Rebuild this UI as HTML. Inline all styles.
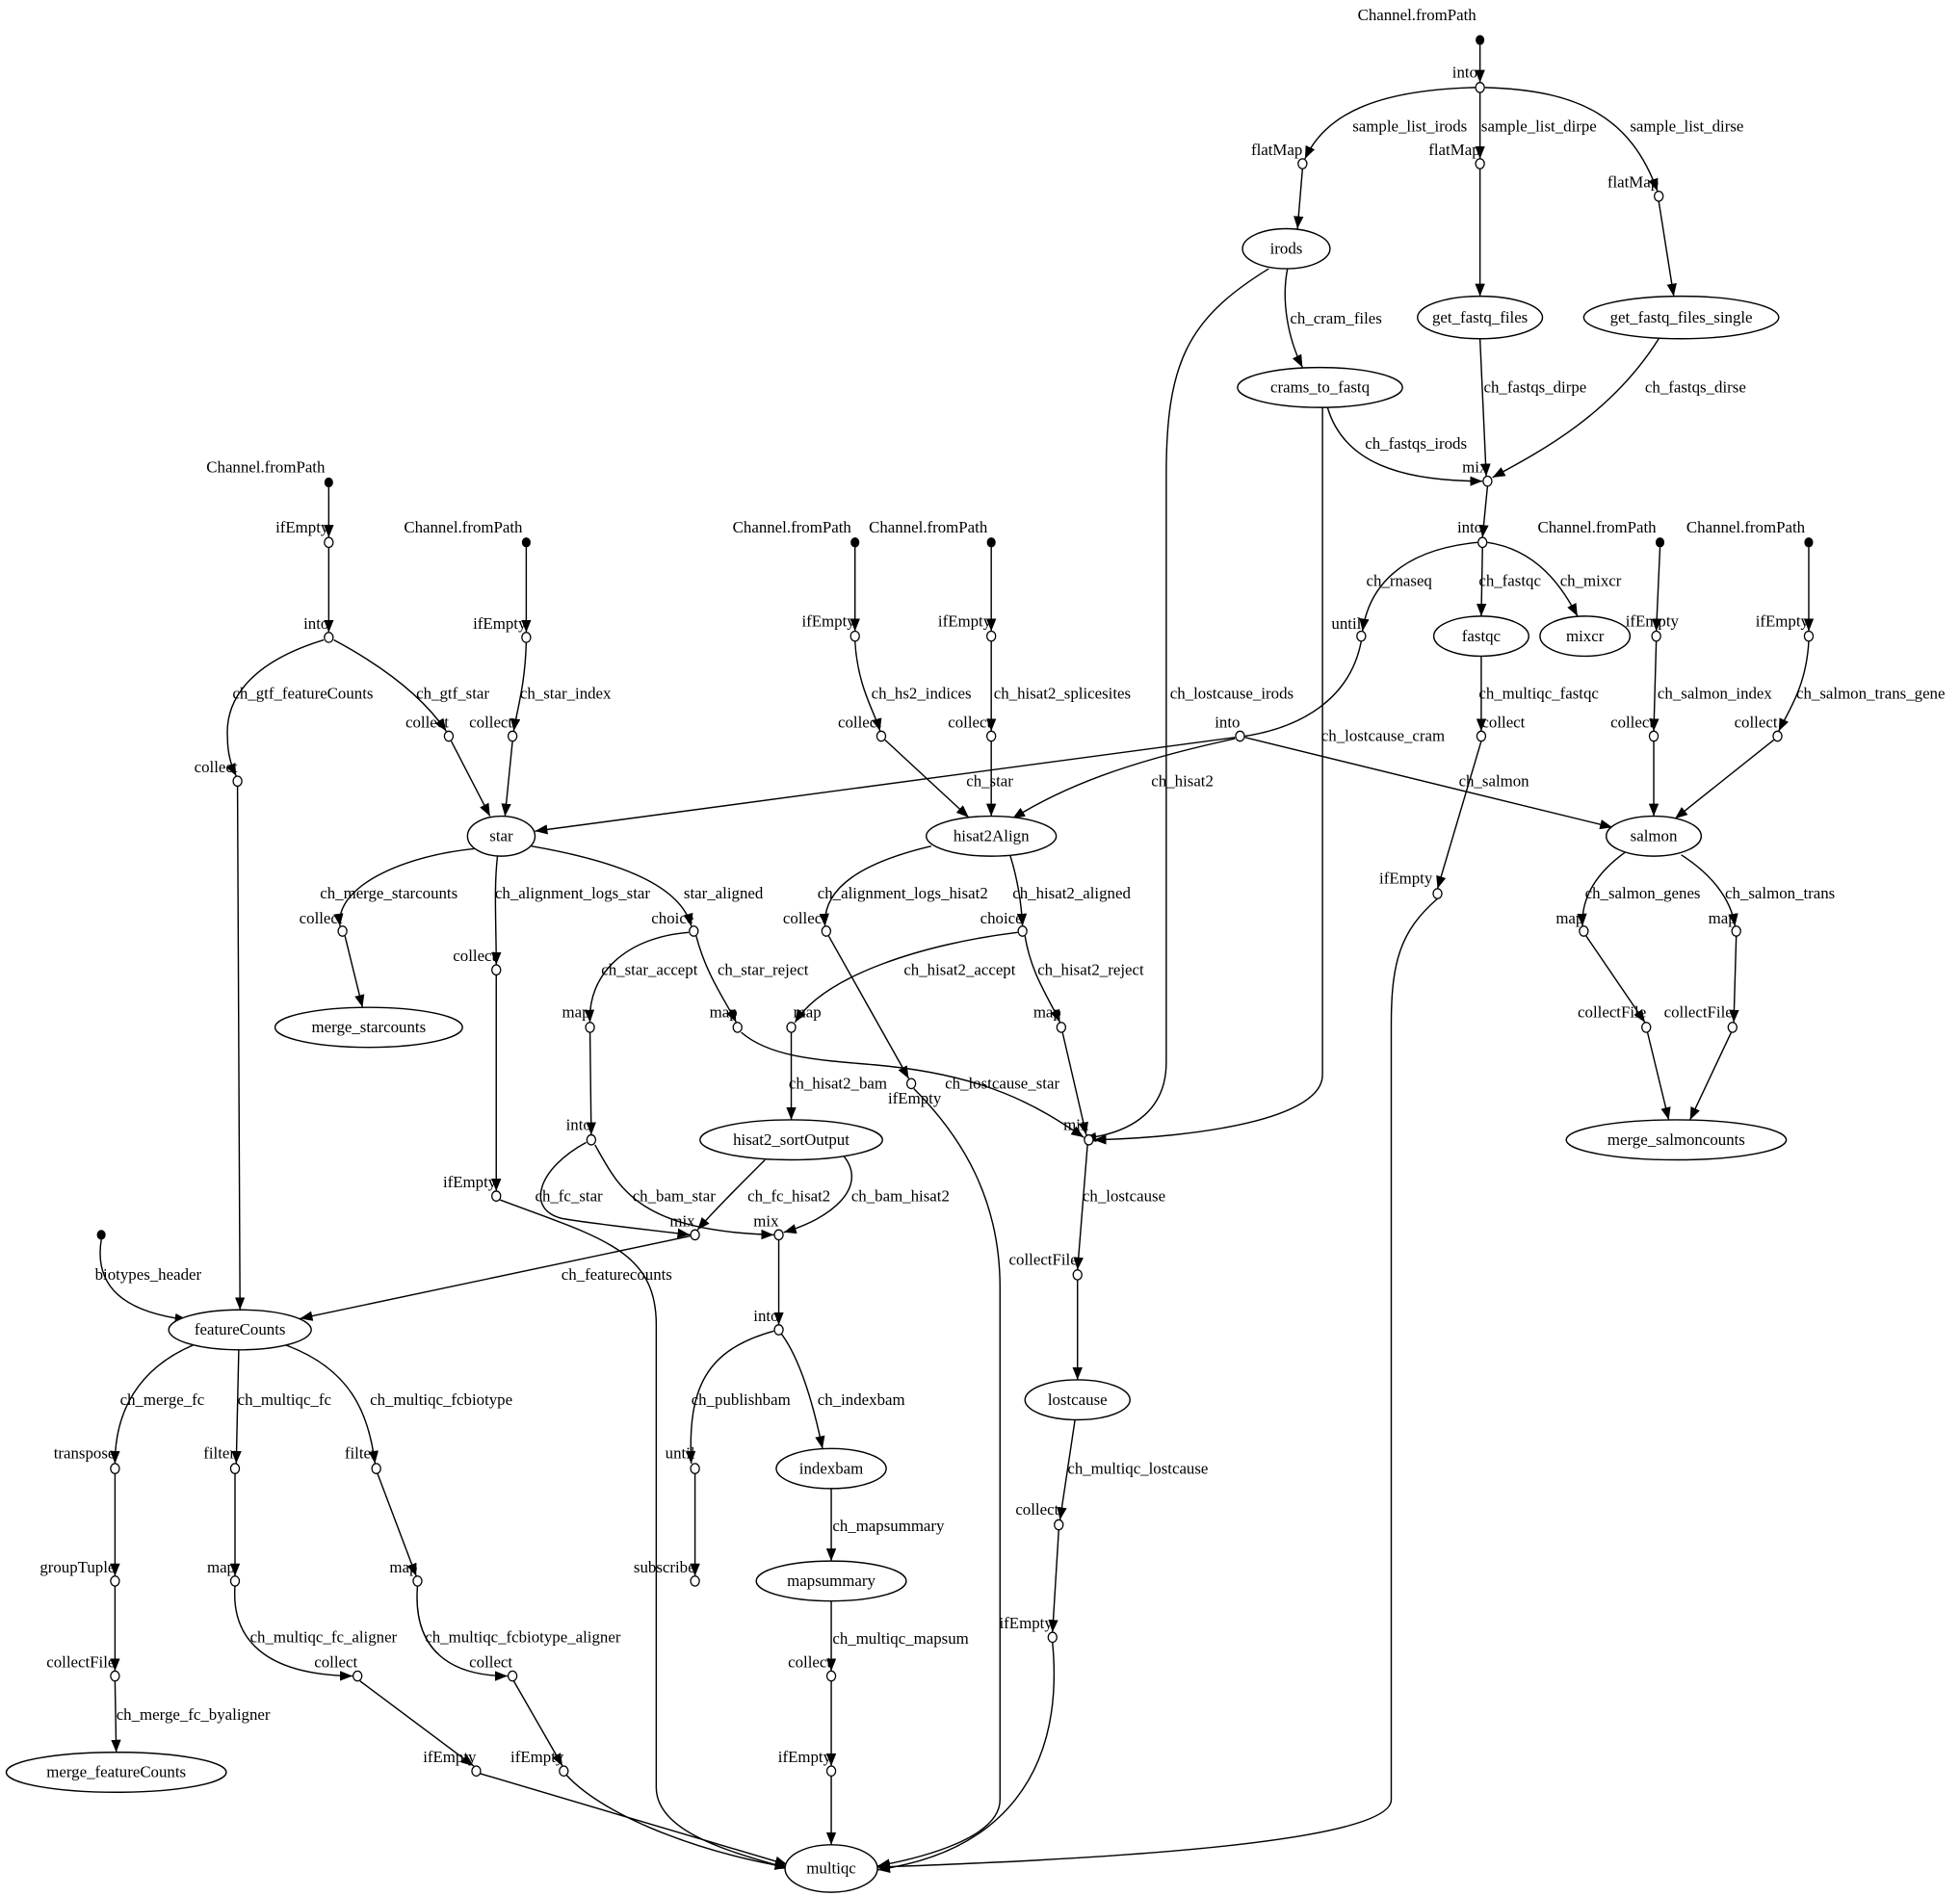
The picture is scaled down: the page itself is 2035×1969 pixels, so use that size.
<!DOCTYPE html>
<html><head><meta charset="utf-8"><style>
html,body{margin:0;padding:0;background:#fff}
svg{display:block}
text{font-family:"Liberation Serif",serif;font-size:13px;fill:#000}
.e{fill:none;stroke:#000;stroke-width:1.1}
.a{marker-end:url(#ar)}
.c{fill:#fff;stroke:#000;stroke-width:1}
.n{fill:#fff;stroke:#000;stroke-width:1.1}
.m{text-anchor:middle}
.r{text-anchor:end}
</style></head><body>
<svg width="2035" height="1969" viewBox="0 0 1568 1517" preserveAspectRatio="none" xmlns="http://www.w3.org/2000/svg">
<defs><marker id="ar" markerUnits="userSpaceOnUse" markerWidth="10" markerHeight="8" refX="10" refY="4" orient="auto"><path d="M0,0 L10,4 L0,8 z" fill="#000"/></marker></defs>
<g>
<path class="e a" d="M1184,36 L1184,66"/>
<path class="e a" d="M1180,70 C1100,72 1060,92 1044,127"/>
<path class="e a" d="M1184,74 L1184,127"/>
<path class="e a" d="M1188,70 C1265,72 1305,95 1326,153"/>
<path class="e a" d="M1042,135 L1038,183"/>
<path class="e a" d="M1184,135 L1184,237"/>
<path class="e a" d="M1327,161 L1339,237"/>
<path class="e a" d="M1030,215 C1025,240 1030,270 1042,294"/>
<path class="e a" d="M1015,215 C950,255 933,290 933,380 L933,850 C933,885 910,906 867,911"/>
<path class="e a" d="M1184,271 L1189,381"/>
<path class="e a" d="M1327,271 C1290,330 1235,360 1194,382"/>
<path class="e a" d="M1062,326 C1075,370 1120,385 1186,385"/>
<path class="e a" d="M1058,326 L1058,860 C1058,895 960,910 875,912"/>
<path class="e a" d="M1190,389 L1186,430"/>
<path class="e a" d="M1182,434 C1120,440 1095,470 1090,505"/>
<path class="e a" d="M1186,438 L1185,493"/>
<path class="e a" d="M1190,434 C1230,440 1250,470 1262,493"/>
<path class="e" d="M1089,513 C1080,560 1040,582 996,589"/>
<path class="e a" d="M988,590 L428,665"/>
<path class="e a" d="M988,591 C900,610 850,630 810,655"/>
<path class="e a" d="M996,590 L1290,662"/>
<path class="e a" d="M1185,525 L1185,585"/>
<path class="e a" d="M1185,593 L1150,711"/>
<path class="e a" d="M1150,719 C1120,745 1113,770 1113,820 L1113,1440 C1113,1480 800,1490 702,1494"/>
<path class="e a" d="M1328,438 L1325,505"/>
<path class="e a" d="M1447,438 L1447,505"/>
<path class="e a" d="M1325,513 L1323,585"/>
<path class="e a" d="M1447,513 C1445,550 1430,570 1423,585"/>
<path class="e a" d="M1323,593 L1323,653"/>
<path class="e a" d="M1419,592 L1340,655"/>
<path class="e a" d="M1300,682 C1275,700 1265,720 1266,741"/>
<path class="e a" d="M1345,684 C1370,700 1385,720 1388,741"/>
<path class="e a" d="M1269,749 L1316,818"/>
<path class="e a" d="M1389,749 L1387,818"/>
<path class="e a" d="M1318,826 L1335,896"/>
<path class="e a" d="M1385,826 L1352,896"/>
<path class="e a" d="M684,438 L684,505"/>
<path class="e a" d="M793,438 L793,505"/>
<path class="e a" d="M684,513 C686,550 700,570 704,585"/>
<path class="e a" d="M793,513 L793,585"/>
<path class="e a" d="M708,592 L775,654"/>
<path class="e a" d="M793,593 L793,653"/>
<path class="e a" d="M745,677 C690,690 658,710 660,741"/>
<path class="e a" d="M808,684 C813,700 817,720 818,741"/>
<path class="e a" d="M663,749 L727,863"/>
<path class="e a" d="M731,871 C770,910 800,960 800,1030 L800,1440 C800,1470 740,1486 702,1493"/>
<path class="e a" d="M814,746 C740,755 660,780 636,818"/>
<path class="e a" d="M820,749 C825,780 840,800 848,818"/>
<path class="e a" d="M633,826 L633,896"/>
<path class="e a" d="M850,826 L869,908"/>
<path class="e a" d="M593,826 C615,845 650,848 700,852 C790,860 830,885 867,910"/>
<path class="e a" d="M870,916 L862,1016"/>
<path class="e a" d="M862,1024 L862,1104"/>
<path class="e a" d="M860,1136 L848,1216"/>
<path class="e a" d="M847,1224 L842,1306"/>
<path class="e a" d="M842,1314 C852,1420 800,1482 702,1496"/>
<path class="e a" d="M612,928 C590,950 570,970 558,984"/>
<path class="e a" d="M675,925 C695,950 665,975 627,986"/>
<path class="e a" d="M552,989 L240,1055"/>
<path class="e a" d="M623,992 L623,1060"/>
<path class="e a" d="M619,1065 C565,1080 550,1110 553,1171"/>
<path class="e a" d="M625,1067 C642,1090 652,1130 658,1159"/>
<path class="e a" d="M556,1179 L556,1261"/>
<path class="e a" d="M665,1191 L665,1249"/>
<path class="e a" d="M665,1281 L665,1337"/>
<path class="e a" d="M665,1345 L665,1413"/>
<path class="e a" d="M665,1421 L665,1476"/>
<path class="e a" d="M263,390 L263,430"/>
<path class="e a" d="M263,438 L263,506"/>
<path class="e a" d="M421,438 L421,506"/>
<path class="e a" d="M421,514 C420,550 413,570 411,585"/>
<path class="e a" d="M259,512 C200,530 180,560 182,590 C182,605 186,615 189,621"/>
<path class="e a" d="M267,512 C310,535 340,560 357,585"/>
<path class="e a" d="M361,593 L392,653"/>
<path class="e a" d="M410,593 L404,653"/>
<path class="e a" d="M190,629 L192,1048"/>
<path class="e a" d="M380,679 C320,685 268,710 272,741"/>
<path class="e a" d="M398,685 C395,710 397,740 397,772"/>
<path class="e a" d="M425,677 C500,690 545,710 553,741"/>
<path class="e a" d="M276,749 L290,806"/>
<path class="e a" d="M397,780 L397,953"/>
<path class="e a" d="M400,960 C480,990 525,1000 525,1060 L525,1430 C525,1470 600,1485 630,1495"/>
<path class="e a" d="M551,746 C500,750 470,780 472,818"/>
<path class="e a" d="M557,749 C565,780 580,800 589,818"/>
<path class="e a" d="M472,826 L473,908"/>
<path class="e a" d="M469,914 C430,935 420,968 450,975 C480,980 520,984 552,988"/>
<path class="e a" d="M476,916 C495,950 510,985 619,988"/>
<path class="e a" d="M81,992 C75,1030 100,1050 150,1056"/>
<path class="e a" d="M155,1076 C110,1095 92,1130 92,1171"/>
<path class="e a" d="M191,1080 L189,1171"/>
<path class="e a" d="M228,1076 C280,1095 295,1130 300,1171"/>
<path class="e a" d="M92,1179 L92,1261"/>
<path class="e a" d="M92,1269 L92,1337"/>
<path class="e a" d="M92,1345 L93,1402"/>
<path class="e a" d="M188,1179 L188,1261"/>
<path class="e a" d="M302,1179 L333,1261"/>
<path class="e a" d="M188,1269 C185,1310 210,1340 282,1341"/>
<path class="e a" d="M334,1269 C330,1320 360,1341 406,1341"/>
<path class="e a" d="M288,1345 L379,1413"/>
<path class="e a" d="M411,1345 L450,1413"/>
<path class="e a" d="M384,1419 L630,1492"/>
<path class="e a" d="M453,1420 C480,1450 550,1480 630,1494"/>
</g>
<g fill="#000">
<ellipse cx="1184" cy="32" rx="3.5" ry="4"/>
<ellipse cx="1328" cy="434" rx="3.5" ry="4"/>
<ellipse cx="1447" cy="434" rx="3.5" ry="4"/>
<ellipse cx="684" cy="434" rx="3.5" ry="4"/>
<ellipse cx="793" cy="434" rx="3.5" ry="4"/>
<ellipse cx="263" cy="386" rx="3.5" ry="4"/>
<ellipse cx="421" cy="434" rx="3.5" ry="4"/>
<ellipse cx="81" cy="988" rx="3.5" ry="4"/>
</g>
<g class="c">
<ellipse cx="1184" cy="70" rx="3.5" ry="4"/><ellipse cx="1042" cy="131" rx="3.5" ry="4"/><ellipse cx="1184" cy="131" rx="3.5" ry="4"/><ellipse cx="1327" cy="157" rx="3.5" ry="4"/>
<ellipse cx="1190" cy="385" rx="3.5" ry="4"/><ellipse cx="1186" cy="434" rx="3.5" ry="4"/><ellipse cx="1089" cy="509" rx="3.5" ry="4"/><ellipse cx="992" cy="589" rx="3.5" ry="4"/>
<ellipse cx="1325" cy="509" rx="3.5" ry="4"/><ellipse cx="1447" cy="509" rx="3.5" ry="4"/><ellipse cx="1323" cy="589" rx="3.5" ry="4"/><ellipse cx="1422" cy="589" rx="3.5" ry="4"/>
<ellipse cx="1185" cy="589" rx="3.5" ry="4"/><ellipse cx="1150" cy="715" rx="3.5" ry="4"/><ellipse cx="1267" cy="745" rx="3.5" ry="4"/><ellipse cx="1389" cy="745" rx="3.5" ry="4"/>
<ellipse cx="1317" cy="822" rx="3.5" ry="4"/><ellipse cx="1386" cy="822" rx="3.5" ry="4"/>
<ellipse cx="684" cy="509" rx="3.5" ry="4"/><ellipse cx="793" cy="509" rx="3.5" ry="4"/><ellipse cx="705" cy="589" rx="3.5" ry="4"/><ellipse cx="793" cy="589" rx="3.5" ry="4"/>
<ellipse cx="661" cy="745" rx="3.5" ry="4"/><ellipse cx="818" cy="745" rx="3.5" ry="4"/><ellipse cx="633" cy="822" rx="3.5" ry="4"/><ellipse cx="849" cy="822" rx="3.5" ry="4"/>
<ellipse cx="729" cy="867" rx="3.5" ry="4"/><ellipse cx="871" cy="912" rx="3.5" ry="4"/><ellipse cx="862" cy="1020" rx="3.5" ry="4"/><ellipse cx="847" cy="1220" rx="3.5" ry="4"/><ellipse cx="842" cy="1310" rx="3.5" ry="4"/>
<ellipse cx="556" cy="988" rx="3.5" ry="4"/><ellipse cx="623" cy="988" rx="3.5" ry="4"/><ellipse cx="623" cy="1064" rx="3.5" ry="4"/><ellipse cx="556" cy="1175" rx="3.5" ry="4"/><ellipse cx="556" cy="1265" rx="3.5" ry="4"/>
<ellipse cx="665" cy="1341" rx="3.5" ry="4"/><ellipse cx="665" cy="1417" rx="3.5" ry="4"/>
<ellipse cx="263" cy="434" rx="3.5" ry="4"/><ellipse cx="263" cy="510" rx="3.5" ry="4"/><ellipse cx="421" cy="510" rx="3.5" ry="4"/><ellipse cx="190" cy="625" rx="3.5" ry="4"/>
<ellipse cx="359" cy="589" rx="3.5" ry="4"/><ellipse cx="410" cy="589" rx="3.5" ry="4"/><ellipse cx="274" cy="745" rx="3.5" ry="4"/><ellipse cx="397" cy="776" rx="3.5" ry="4"/><ellipse cx="555" cy="745" rx="3.5" ry="4"/>
<ellipse cx="472" cy="822" rx="3.5" ry="4"/><ellipse cx="590" cy="822" rx="3.5" ry="4"/><ellipse cx="473" cy="912" rx="3.5" ry="4"/><ellipse cx="397" cy="957" rx="3.5" ry="4"/>
<ellipse cx="92" cy="1175" rx="3.5" ry="4"/><ellipse cx="188" cy="1175" rx="3.5" ry="4"/><ellipse cx="301" cy="1175" rx="3.5" ry="4"/>
<ellipse cx="92" cy="1265" rx="3.5" ry="4"/><ellipse cx="188" cy="1265" rx="3.5" ry="4"/><ellipse cx="334" cy="1265" rx="3.5" ry="4"/>
<ellipse cx="92" cy="1341" rx="3.5" ry="4"/><ellipse cx="286" cy="1341" rx="3.5" ry="4"/><ellipse cx="410" cy="1341" rx="3.5" ry="4"/>
<ellipse cx="381" cy="1417" rx="3.5" ry="4"/><ellipse cx="451" cy="1417" rx="3.5" ry="4"/>
</g>
<g class="n">
<ellipse cx="1029" cy="199" rx="35" ry="16"/>
<ellipse cx="1184" cy="254" rx="50" ry="17"/>
<ellipse cx="1345" cy="254" rx="78" ry="17"/>
<ellipse cx="1056" cy="310" rx="66" ry="16"/>
<ellipse cx="1185" cy="509" rx="38" ry="16"/>
<ellipse cx="1268" cy="509" rx="36" ry="16"/>
<ellipse cx="1323" cy="669" rx="38" ry="16"/>
<ellipse cx="1341" cy="912" rx="88" ry="16"/>
<ellipse cx="793" cy="669" rx="52" ry="16"/>
<ellipse cx="633" cy="912" rx="73" ry="16"/>
<ellipse cx="862" cy="1120" rx="42" ry="16"/>
<ellipse cx="665" cy="1175" rx="44" ry="16"/>
<ellipse cx="665" cy="1265" rx="60" ry="16"/>
<ellipse cx="665" cy="1495" rx="37" ry="19"/>
<ellipse cx="401" cy="669" rx="27" ry="16"/>
<ellipse cx="295" cy="822" rx="75" ry="16"/>
<ellipse cx="192" cy="1064" rx="57" ry="16"/>
<ellipse cx="93" cy="1418" rx="88" ry="16"/>
</g>
<g class="m">
<text x="1029" y="203">irods</text><text x="1184" y="258">get_fastq_files</text><text x="1345" y="258">get_fastq_files_single</text>
<text x="1056" y="314">crams_to_fastq</text><text x="1185" y="513">fastqc</text><text x="1268" y="513">mixcr</text>
<text x="1323" y="673">salmon</text><text x="1341" y="916">merge_salmoncounts</text><text x="793" y="673">hisat2Align</text>
<text x="633" y="916">hisat2_sortOutput</text><text x="862" y="1124">lostcause</text><text x="665" y="1179">indexbam</text>
<text x="665" y="1269">mapsummary</text><text x="665" y="1499">multiqc</text><text x="401" y="673">star</text>
<text x="295" y="826">merge_starcounts</text><text x="192" y="1068">featureCounts</text><text x="93" y="1422">merge_featureCounts</text>
</g>
<g class="r">
<text x="1181" y="16">Channel.fromPath</text><text x="1325" y="426">Channel.fromPath</text><text x="1444" y="426">Channel.fromPath</text>
<text x="681" y="426">Channel.fromPath</text><text x="790" y="426">Channel.fromPath</text><text x="260" y="378">Channel.fromPath</text><text x="418" y="426">Channel.fromPath</text>
<text x="1182" y="62">into</text><text x="1042" y="124">flatMap</text><text x="1184" y="124">flatMap</text><text x="1327" y="150">flatMap</text>
<text x="1190" y="378">mix</text><text x="1186" y="426">into</text><text x="1089" y="503">until</text><text x="992" y="582">into</text>
<text x="1343" y="501">ifEmpty</text><text x="1447" y="501">ifEmpty</text><text x="1323" y="582">collect</text><text x="1422" y="582">collect</text>
<text x="1220" y="582">collect</text><text x="1146" y="707">ifEmpty</text><text x="1267" y="739">map</text><text x="1389" y="739">map</text>
<text x="1317" y="814">collectFile</text><text x="1386" y="814">collectFile</text>
<text x="684" y="501">ifEmpty</text><text x="793" y="501">ifEmpty</text><text x="705" y="582">collect</text><text x="793" y="582">collect</text>
<text x="661" y="739">collect</text><text x="818" y="739">choice</text><text x="657" y="814">map</text><text x="849" y="814">map</text>
<text x="753" y="883">ifEmpty</text><text x="871" y="904">mix</text><text x="862" y="1012">collectFile</text><text x="847" y="1212">collect</text><text x="842" y="1303">ifEmpty</text>
<text x="556" y="981">mix</text><text x="623" y="981">mix</text><text x="623" y="1057">into</text><text x="556" y="1167">until</text><text x="556" y="1258">subscribe</text>
<text x="665" y="1334">collect</text><text x="665" y="1410">ifEmpty</text>
<text x="263" y="426">ifEmpty</text><text x="263" y="503">into</text><text x="421" y="503">ifEmpty</text><text x="190" y="618">collect</text>
<text x="359" y="582">collect</text><text x="410" y="582">collect</text><text x="274" y="739">collect</text><text x="397" y="769">collect</text><text x="555" y="739">choice</text>
<text x="472" y="814">map</text><text x="590" y="814">map</text><text x="473" y="904">into</text><text x="397" y="950">ifEmpty</text>
<text x="92" y="1167">transpose</text><text x="188" y="1167">filter</text><text x="301" y="1167">filter</text>
<text x="92" y="1258">groupTuple</text><text x="188" y="1258">map</text><text x="334" y="1258">map</text>
<text x="92" y="1334">collectFile</text><text x="286" y="1334">collect</text><text x="410" y="1334">collect</text>
<text x="381" y="1410">ifEmpty</text><text x="451" y="1410">ifEmpty</text>
</g>
<g>
<text x="1082" y="105">sample_list_irods</text><text x="1185" y="105">sample_list_dirpe</text><text x="1304" y="105">sample_list_dirse</text>
<text x="1032" y="259">ch_cram_files</text><text x="936" y="559">ch_lostcause_irods</text><text x="1187" y="314">ch_fastqs_dirpe</text>
<text x="1316" y="314">ch_fastqs_dirse</text><text x="1092" y="359">ch_fastqs_irods</text><text x="1057" y="593">ch_lostcause_cram</text>
<text x="1093" y="469">ch_rnaseq</text><text x="1183" y="469">ch_fastqc</text><text x="1248" y="469">ch_mixcr</text>
<text x="773" y="629">ch_star</text><text x="921" y="629">ch_hisat2</text><text x="1167" y="629">ch_salmon</text>
<text x="1183" y="559">ch_multiqc_fastqc</text><text x="1326" y="559">ch_salmon_index</text><text x="1437" y="559">ch_salmon_trans_gene</text>
<text x="1268" y="719">ch_salmon_genes</text><text x="1380" y="719">ch_salmon_trans</text>
<text x="697" y="559">ch_hs2_indices</text><text x="795" y="559">ch_hisat2_splicesites</text>
<text x="654" y="719">ch_alignment_logs_hisat2</text><text x="810" y="719">ch_hisat2_aligned</text>
<text x="723" y="780">ch_hisat2_accept</text><text x="830" y="780">ch_hisat2_reject</text>
<text x="631" y="871">ch_hisat2_bam</text><text x="756" y="871">ch_lostcause_star</text>
<text x="866" y="961">ch_lostcause</text><text x="854" y="1179">ch_multiqc_lostcause</text>
<text x="598" y="961">ch_fc_hisat2</text><text x="681" y="961">ch_bam_hisat2</text><text x="449" y="1024">ch_featurecounts</text>
<text x="553" y="1124">ch_publishbam</text><text x="654" y="1124">ch_indexbam</text><text x="666" y="1225">ch_mapsummary</text><text x="666" y="1315">ch_multiqc_mapsum</text>
<text x="416" y="559">ch_star_index</text><text x="186" y="559">ch_gtf_featureCounts</text><text x="333" y="559">ch_gtf_star</text>
<text x="256" y="719">ch_merge_starcounts</text><text x="396" y="719">ch_alignment_logs_star</text><text x="547" y="719">star_aligned</text>
<text x="481" y="780">ch_star_accept</text><text x="574" y="780">ch_star_reject</text>
<text x="428" y="961">ch_fc_star</text><text x="506" y="961">ch_bam_star</text><text x="76" y="1024">biotypes_header</text>
<text x="96" y="1124">ch_merge_fc</text><text x="190" y="1124">ch_multiqc_fc</text><text x="296" y="1124">ch_multiqc_fcbiotype</text>
<text x="93" y="1376">ch_merge_fc_byaligner</text><text x="200" y="1314">ch_multiqc_fc_aligner</text><text x="340" y="1314">ch_multiqc_fcbiotype_aligner</text>
</g>
</svg>
</body></html>
